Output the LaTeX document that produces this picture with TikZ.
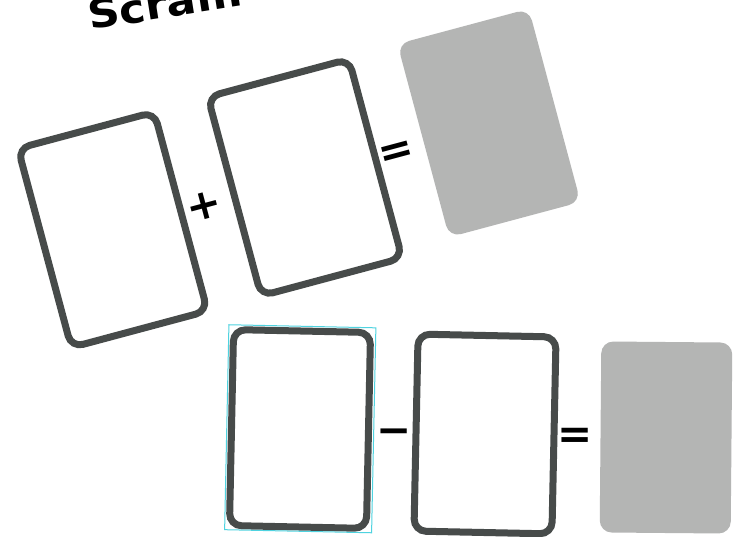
\documentclass[tikz,border=0pt]{standalone}
\usepackage{fontspec}
\newfontfamily\opfont{DejaVu Sans}
\newfontfamily\handfont{DejaVu Sans}
\definecolor{cardline}{HTML}{474B4A}
\definecolor{cardgray}{HTML}{B4B5B4}
\definecolor{selcyan}{HTML}{4FD3E0}
\begin{document}
\begin{tikzpicture}[x=1pt,y=1pt,
  card/.style={draw=cardline, line width=7pt, rounded corners=12pt, fill=white, inner sep=0pt, outer sep=0pt},
  blank/.style={fill=cardgray, rounded corners=12pt, inner sep=0pt, outer sep=0pt},
  op/.style={font=\opfont\bfseries\fontsize{42}{42}\selectfont, text=black, inner sep=0pt},
  sel/.style={draw=selcyan, line width=1pt, inner sep=0pt, outer sep=0pt},
  title/.style={font=\handfont\bfseries\fontsize{40}{40}\selectfont, text=black, inner sep=0pt}]
\useasboundingbox (0,0) rectangle (736,-536);
\fill[white] (0,0) rectangle (736,-536);
% title (cut by the top edge, as in the reference)
\node[title, rotate=9, xscale=1.1, anchor=base west] (ttl) at (90,-30) {Scram};
% top row
\node[card, rotate=15, minimum width=141pt, minimum height=206pt] (a1) at (112.75,-229.75) {};
\node[card, rotate=15, minimum width=146pt, minimum height=206pt] (a2) at (305,-177.5) {};
\node[blank, rotate=15, minimum width=136pt, minimum height=200pt] (a3) at (489,-123) {};
\node[op, rotate=15] (plus) at (204,-206) {+};
\node[op, rotate=15] (eq1) at (397,-154) {=};
% bottom row
\node[card, rotate=-1.2, minimum width=137pt, minimum height=196pt] (b1) at (300,-429) {};
\node[sel, rotate=-1.2, minimum width=147pt, minimum height=205pt] (selbox) at (300.25,-428.75) {};
\node[card, rotate=-1.2, minimum width=138pt, minimum height=197pt] (b2) at (485,-434) {};
\node[blank, rotate=-0.5, minimum width=131pt, minimum height=191pt] (b3) at (666,-437.5) {};
\node[op] (minus) at (394,-437) {−};
\node[op] (eq2) at (575.5,-438.5) {=};
\end{tikzpicture}
\end{document}
